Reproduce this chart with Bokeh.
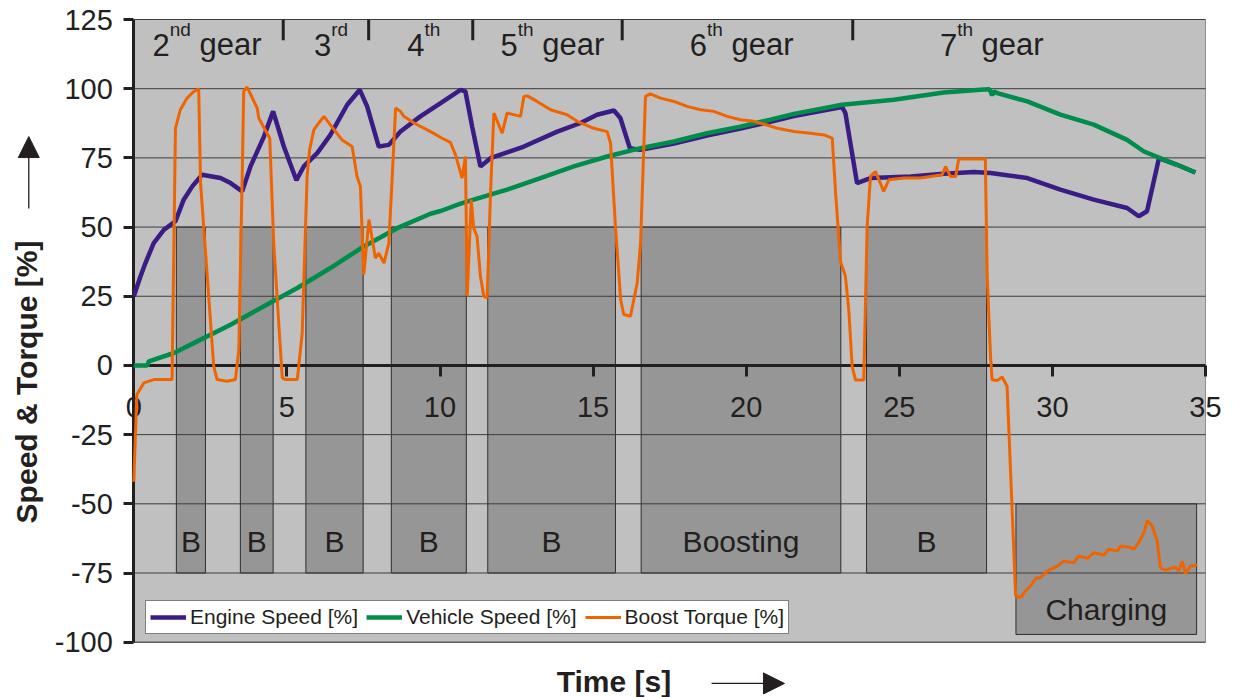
import math
from bokeh.plotting import figure
from bokeh.models import (Range1d, FixedTicker, Legend, LegendItem, Label, Arrow,
                          NormalHead, PrintfTickFormatter)
from bokeh.core.properties import value
from bokeh.embed import file_html
from bokeh.resources import INLINE

# ---------------- data ----------------
eng_t = [0.0, 0.22, 0.38, 0.65, 0.98, 1.36, 1.63, 1.91, 2.23, 2.83, 3.16, 3.54, 3.81, 4.25,
         4.55, 4.90, 5.31, 5.55, 5.99, 6.42, 6.97, 7.38, 7.62, 8.00, 8.33, 8.71, 9.36, 10.02,
         10.67, 10.83, 11.05, 11.32, 11.65, 12.74, 13.83, 14.59, 15.13, 15.68, 15.89, 16.20,
         16.55, 17.64, 18.72, 19.81, 20.79, 21.56, 23.13, 23.24, 23.62, 24.06, 25.37, 26.45,
         27.43, 27.98, 29.18, 30.26, 31.35, 32.44, 32.82, 33.09, 33.48, 34.07, 34.67]
eng_v = [25.0, 32.2, 37.0, 44.2, 49.0, 52.1, 59.9, 64.7, 68.9, 67.7, 65.9, 62.9, 71.9, 82.7,
         91.8, 79.1, 66.9, 71.9, 76.7, 83.3, 94.2, 99.6, 93.6, 79.1, 79.7, 84.5, 90.0, 94.8,
         99.6, 99.0, 86.3, 71.9, 74.9, 79.1, 84.5, 87.6, 90.6, 92.1, 89.4, 78.5,
         77.9, 80.2, 83.1, 85.6, 88.0, 90.1, 93.4, 91.2, 65.9, 67.7, 68.3, 69.3,
         69.9, 69.5, 67.7, 63.5, 59.9, 56.9, 53.9, 55.7, 74.9, 72.5, 69.7]

veh_t = [0.0, 0.44, 0.49, 1.31, 2.07, 3.16, 4.25, 5.34, 6.42, 7.51, 8.60, 9.69, 10.02, 10.67,
         11.10, 12.19, 13.28, 14.37, 15.46, 16.55, 17.64, 18.72, 19.81, 20.79, 21.56, 23.13,
         24.82, 26.45, 27.65, 27.95, 28.03, 28.09, 28.20, 29.18, 30.26, 31.35, 32.44, 32.99,
         34.07, 34.67]
veh_v = [0.0, 0.0, 1.5, 4.5, 8.7, 14.7, 21.4, 28.0, 35.2, 43.0, 49.6, 54.8, 55.8, 58.5,
         59.9, 63.5, 67.7, 71.9, 75.5, 78.5, 80.9, 83.9, 86.3, 88.8, 90.9, 94.2,
         96.0, 98.6, 99.6, 99.8, 97.6, 99.0, 98.4, 95.4, 90.6, 87.0, 81.5, 77.3,
         72.5, 69.7]

boost_t = [0.0, 0.10, 0.33, 0.65, 1.25, 1.36, 1.52, 1.74, 1.96, 2.12, 2.18, 2.40, 2.61, 2.72,
           3.05, 3.32, 3.43, 3.54, 3.59, 3.70, 4.03, 4.08, 4.44, 4.57, 4.74, 4.85, 4.96, 5.34,
           5.50, 5.66, 5.74, 5.88, 6.04, 6.21, 6.42, 6.80, 7.13, 7.29, 7.40, 7.51, 7.68, 7.89,
           8.00, 8.17, 8.33, 8.44, 8.55, 8.71, 8.82, 9.15, 9.69, 10.07, 10.34, 10.51, 10.72,
           10.83, 10.89, 11.02, 11.10, 11.21, 11.32, 11.43, 11.54, 11.65, 11.76, 12.03, 12.19,
           12.63, 12.74, 12.85, 13.17, 13.61, 14.15, 14.48, 15.02, 15.46, 15.57, 15.73, 15.90,
           16.00, 16.22, 16.44, 16.55, 16.66, 16.71, 16.87, 17.20, 17.64, 18.07, 18.51, 18.94,
           19.38, 19.81, 20.25, 20.79, 21.01, 21.56, 22.10, 22.54, 22.81, 22.92, 23.08, 23.24,
           23.35, 23.46, 23.57, 23.84, 23.95, 24.06, 24.22, 24.49, 24.66, 25.15, 25.69, 26.40,
           26.51, 26.67, 26.84, 26.94, 27.81, 27.87, 27.98, 28.03, 28.20, 28.36, 28.52, 28.80,
           28.96, 29.12, 29.29, 29.45, 29.61, 29.83, 30.16, 30.37, 30.70, 30.86, 31.14, 31.35,
           31.68, 31.84, 32.12, 32.23, 32.55, 32.66, 32.82, 32.99, 33.10, 33.26, 33.42, 33.53,
           33.69, 33.86, 34.02, 34.13, 34.24, 34.35, 34.51, 34.73]
boost_v = [-42.0, -10.5, -6.3, -5.1, -5.1, 85.7, 92.4, 96.6, 99.0, 100.0, 65.9, 32.2, -0.3, -5.1,
           -5.7, -5.1, 5.7, 68.3, 99.0, 100.6, 93.0, 89.4, 82.1, 44.2, 14.1, -4.5, -5.1, -5.1,
           11.7, 68.3, 77.9, 85.1, 87.6, 90.0, 86.9, 81.5, 79.1, 68.3, 64.7, 32.8, 52.7, 38.8,
           40.6, 37.0, 44.2, 68.3, 93.0, 91.8, 90.0, 87.6, 84.5, 82.1, 80.6, 76.0, 67.7,
           75.5, 25.0, 59.9, 49.6, 46.6, 32.2, 25.0, 24.4, 62.3, 91.2, 83.9, 91.2,
           90.0, 97.2, 97.4, 95.4, 92.4, 90.6, 88.2, 85.7, 84.5, 80.3, 50.2, 23.8,
           18.4, 17.8, 29.8, 44.2, 80.3, 97.2, 98.1, 96.6, 95.4, 93.6, 92.4, 91.8,
           90.0, 88.8, 88.2, 86.5, 85.7, 84.5, 83.9, 83.3, 82.1, 62.3, 37.6, 32.2,
           20.2, -0.3, -5.3, -5.3, 50.2, 68.3, 70.1, 62.9, 67.1, 67.7, 67.7, 68.9,
           71.9, 68.3, 68.3, 74.6, 74.6, 32.2, 3.3, -5.2, -5.4, -4.2, -7.5, -83.3,
           -83.9, -81.5, -79.7, -76.9, -76.7, -74.3, -72.5, -70.7, -71.3, -68.9, -69.7, -67.7,
           -68.5, -66.4, -67.0, -65.2, -65.8, -66.4, -64.0, -60.4, -56.0, -58.0, -63.4, -73.1,
           -74.0, -73.3, -72.9, -74.3, -70.7, -75.2, -72.5, -72.1]

# boosting phases (start, end in s) and their labels
phase_start = [1.39, 3.48, 5.62, 8.41, 11.56, 16.57, 23.93]
phase_end = [2.34, 4.55, 7.49, 10.86, 15.73, 23.09, 27.85]
phase_labels = ["B", "B", "B", "B", "B", "Boosting", "B"]
charge_start = [28.81]
charge_end = [34.71]
charge_labels = ["Charging"]

# gear shifts (s) and gear labels
gear_shifts = [4.88, 7.67, 11.07, 15.95, 23.48]
gear_nums = ["2", "3", "4", "5", "6", "7"]
gear_sups = ["nd", "rd", "th", "th", "th", "th"]
gear_words = ["gear", "", "", "gear", "gear", "gear"]
gear_label_x = [2.39, 6.44, 9.47, 13.67, 19.85, 28.02]

x_ticks = [0, 5, 10, 15, 20, 25, 30, 35]
y_ticks = [-100, -75, -50, -25, 0, 25, 50, 75, 100, 125]

# ---------------- layout / styling ----------------
W, H = 1234, 697
PX0, PX35 = 133.3, 1205.0     # pixel columns of t=0 and t=35
PY125, PY_100 = 19.0, 641.7   # pixel rows of 125 and -100
sx = (PX35 - PX0) / 35.0
sy = (PY_100 - PY125) / 225.0
x_range = Range1d(-PX0 / sx, 35 + (W - PX35) / sx)
y_range = Range1d(125 - (H - PY125) / sy, 125 + PY125 / sy)

FONT = "Liberation Sans"
TXT = "#231f20"
C_ENG = "#3a1d84"
C_VEH = "#008c4b"
C_BOOST = "#f06400"
C_BOX = "#969696"
C_BG = "#c0c0c1"

p = figure(width=W, height=H, x_range=x_range, y_range=y_range, title=None,
           output_backend="svg", toolbar_location=None, min_border=0)
p.background_fill_color = "white"
p.border_fill_color = "white"
p.outline_line_color = None
p.xgrid.visible = False
p.ygrid.visible = False

# plot area
p.quad(left=[0], right=[35], bottom=[-100], top=[125], fill_color=C_BG,
       line_color="#8f8f8f", line_width=1, level="image")

# boosting / charging boxes
p.quad(left=phase_start, right=phase_end, bottom=-75, top=50,
       fill_color=C_BOX, line_color="#2e2e2e", line_width=1, level="image")
p.quad(left=charge_start, right=charge_end, bottom=-97.2, top=-50,
       fill_color=C_BOX, line_color="#2e2e2e", line_width=1, level="image")

# horizontal grid lines over the boxes
p.segment(x0=[0] * len(y_ticks), x1=[35] * len(y_ticks), y0=y_ticks, y1=y_ticks,
          line_color="#3c3c3c", line_width=1, level="image")

pc = [(a + b) / 2 for a, b in zip(phase_start, phase_end)]
p.text(x=pc, y=[-63.6] * len(pc), text=phase_labels, text_align="center",
       text_baseline="middle", text_font=value(FONT), text_font_size="30px", text_color=TXT)
cc = [(a + b) / 2 for a, b in zip(charge_start, charge_end)]
p.text(x=cc, y=[-88.2], text=charge_labels, text_align="center",
       text_baseline="middle", text_font=value(FONT), text_font_size="30px", text_color=TXT)

# gear shift marks at the top
p.segment(x0=gear_shifts, y0=[125] * len(gear_shifts), x1=gear_shifts,
          y1=[117.5] * len(gear_shifts), line_width=3, line_color=TXT)

# gear labels (number + superscript + word)
FS_MAIN, FS_SUP = 31, 19
W_DIG = 0.556
W_CH = {"n": 0.556, "d": 0.556, "r": 0.333, "t": 0.278, "h": 0.556}
W_SPACE = 0.278
W_GEAR = 0.556 * 3 + 0.333
nx, no, ssx, so, gx, go, gt = [], [], [], [], [], [], []
for num, sup, word, xc in zip(gear_nums, gear_sups, gear_words, gear_label_x):
    wd = W_DIG * FS_MAIN
    ws = sum(W_CH[c] for c in sup) * FS_SUP
    wg = (W_SPACE + W_GEAR) * FS_MAIN if word else 0
    left = -(wd + ws + wg) / 2
    nx.append(xc); no.append(left)
    ssx.append(xc); so.append(left + wd)
    if word:
        gx.append(xc); go.append(left + wd + ws + W_SPACE * FS_MAIN); gt.append(word)
base_y = 115.8
p.text(x=nx, y=[base_y] * len(nx), text=gear_nums, x_offset=no, text_align="left",
       text_baseline="alphabetic", text_font=value(FONT), text_font_size=f"{FS_MAIN}px",
       text_color=TXT)
p.text(x=ssx, y=[base_y] * len(ssx), text=gear_sups, x_offset=so, y_offset=-15.5,
       text_align="left", text_baseline="alphabetic", text_font=value(FONT),
       text_font_size=f"{FS_SUP}px", text_color=TXT)
p.text(x=gx, y=[base_y] * len(gx), text=gt, x_offset=go,
       text_align="left", text_baseline="alphabetic", text_font=value(FONT),
       text_font_size=f"{FS_MAIN}px", text_color=TXT)

# series
r_eng = p.line(eng_t, eng_v, line_color=C_ENG, line_width=4.5)
r_veh = p.line(veh_t, veh_v, line_color=C_VEH, line_width=4.5)
r_boost = p.line(boost_t, boost_v, line_color=C_BOOST, line_width=3)

# axes drawn through the data (x axis at y=0, y axis at t=0)
p.xaxis.fixed_location = 0
p.yaxis.fixed_location = 0
p.xaxis.bounds = (0, 35)
p.yaxis.bounds = (-100, 125)
p.xaxis.ticker = FixedTicker(ticks=x_ticks)
p.yaxis.ticker = FixedTicker(ticks=y_ticks)
for ax in (p.xaxis, p.yaxis):
    ax.level = "underlay"
    ax.formatter = PrintfTickFormatter(format="%d")
    ax.axis_line_width = 3
    ax.axis_line_color = TXT
    ax.major_tick_line_width = 3
    ax.major_tick_line_color = TXT
    ax.major_tick_in = 0
    ax.minor_tick_line_color = None
    ax.major_label_text_font = FONT
    ax.major_label_text_font_size = "29px"
    ax.major_label_text_color = TXT
p.xaxis.major_tick_out = 11
p.xaxis.major_label_standoff = 21
p.yaxis.major_tick_out = 10
p.yaxis.major_label_standoff = 11

legend = Legend(items=[LegendItem(label="Engine Speed [%]", renderers=[r_eng]),
                       LegendItem(label="Vehicle Speed [%]", renderers=[r_veh]),
                       LegendItem(label="Boost Torque [%]", renderers=[r_boost])],
                location=(145, 63), orientation="horizontal",
                label_text_font=FONT, label_text_font_size="21px", label_text_color=TXT,
                glyph_width=36, glyph_height=22, label_standoff=4, spacing=8, padding=4,
                margin=0, border_line_color="black", border_line_width=1,
                background_fill_color="white", background_fill_alpha=1)
p.add_layout(legend, "center")

# axis titles and arrows
p.add_layout(Label(x=-3.50, y=-5.98, text="Speed & Torque [%]", angle=math.pi / 2,
                   text_align="center", text_baseline="alphabetic", text_font=FONT,
                   text_font_size="30px", text_font_style="bold", text_color=TXT))
p.add_layout(Label(x=15.68, y=-114.2, text="Time [s]", text_align="center",
                   text_baseline="alphabetic", text_font=FONT, text_font_size="30px",
                   text_font_style="bold", text_color=TXT))
p.add_layout(Arrow(x_start=-3.43, y_start=56.7, x_end=-3.43, y_end=82.7,
                   line_width=1.3, line_color=TXT,
                   end=NormalHead(size=21, fill_color=TXT, line_color=TXT)))
p.add_layout(Arrow(x_start=18.87, y_start=-114.9, x_end=21.25, y_end=-114.9,
                   line_width=1.3, line_color=TXT,
                   end=NormalHead(size=21, fill_color=TXT, line_color=TXT)))

open("out.html", "w").write(file_html(p, INLINE))
